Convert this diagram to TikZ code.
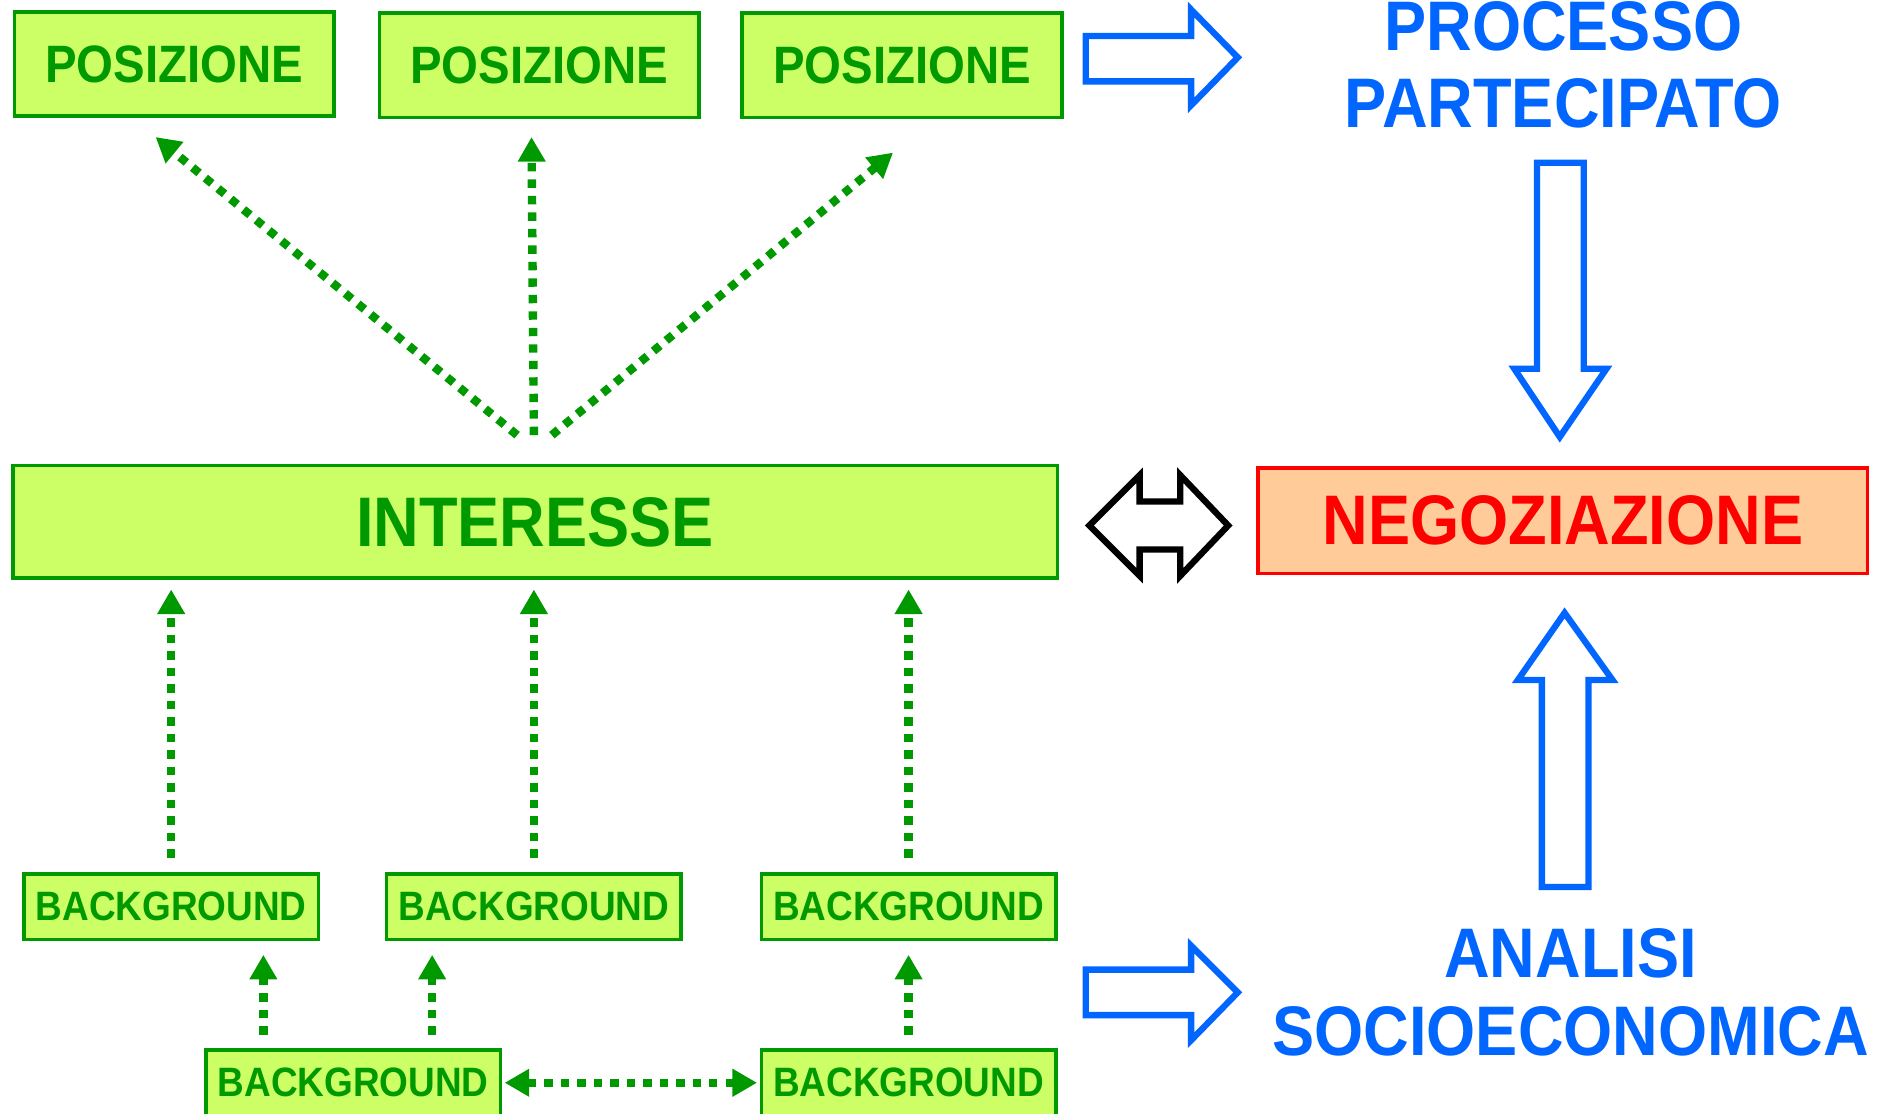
\documentclass[tikz,border=0pt]{standalone}
\usepackage{fontspec}
\setmainfont{Liberation Sans}[FakeStretch=0.9]
\usetikzlibrary{arrows.meta}

\definecolor{limefill}{HTML}{CCFF66}
\definecolor{leafgreen}{HTML}{009900}
\definecolor{skyblue}{HTML}{0066FF}
\definecolor{peach}{HTML}{FFCC99}

\tikzset{
  box/.style={draw=leafgreen, fill=limefill, line width=1pt, text=leafgreen, inner sep=0pt},
  posbox/.style={box, minimum width=3.204cm, minimum height=1.044cm, font=\fontsize{15}{18}\selectfont\bfseries},
  bgbox/.style={box, minimum width=2.952cm, minimum height=0.66cm, font=\fontsize{11.7}{14}\selectfont\bfseries},
  bigfont/.style={font=\fontsize{20}{22}\selectfont\bfseries},
  dotarrow/.style={leafgreen, line width=2.4pt, dash pattern=on 2.4pt off 2.3pt, -{Triangle[length=7pt,width=7.5pt]}},
  blockarrow/.style={draw=skyblue, line width=1.8pt, line join=miter}
}

\begin{document}
\begin{tikzpicture}[x=0.012cm, y=-0.012cm]
  \useasboundingbox (0,0) rectangle (1568,930);

  % Positions
  \node[posbox] (pos1) at (145.5,53.5) {POSIZIONE};
  \node[posbox] (pos2) at (450.5,54.5) {POSIZIONE};
  \node[posbox] (pos3) at (753.5,54.5) {POSIZIONE};

  % Interest
  \node[box, minimum width=10.464cm, minimum height=1.128cm, bigfont] (int) at (447,436) {INTERESSE};

  % Backgrounds
  \node[bgbox] (bg1) at (143,757.5) {BACKGROUND};
  \node[bgbox] (bg2) at (446,757.5) {BACKGROUND};
  \node[bgbox] (bg3) at (759,757.5) {BACKGROUND};
  \node[bgbox] (bg4) at (295,904.5) {BACKGROUND};
  \node[bgbox] (bg5) at (759,904.5) {BACKGROUND};

  % Negotiation side
  \node[draw=red, fill=peach, line width=1pt, text=red, bigfont,
        minimum width=6.108cm, minimum height=1.056cm] (neg) at (1305.5,435) {NEGOZIAZIONE};
  \node[bigfont, text=skyblue, align=center] (proc) at (1306,54) {PROCESSO\\PARTECIPATO};
  \node[bigfont, text=skyblue, align=center] (anal) at (1312,829) {ANALISI\\SOCIOECONOMICA};

  % Fan from interest to positions
  \coordinate (fanL) at ([shift={(-15,-24)}]int.north);
  \coordinate (fanM) at ([shift={(-1,-24)}]int.north);
  \coordinate (fanR) at ([shift={(14,-24)}]int.north);
  \draw[dotarrow] (fanL) -- ([shift={(-15.5,16)}]pos1.south);
  \draw[dotarrow] (fanM) -- ([shift={(-6.5,15)}]pos2.south);
  \draw[dotarrow] (fanR) -- ([shift={(-7.5,28)}]pos3.south);

  % Backgrounds up to interest
  \draw[dotarrow, shorten <=4.1pt, shorten >=2.7pt] (bg1.north) -- (bg1.north |- int.south);
  \draw[dotarrow, shorten <=4.1pt, shorten >=2.7pt] (bg2.north) -- (bg2.north |- int.south);
  \draw[dotarrow, shorten <=4.1pt, shorten >=2.7pt] (bg3.north) -- (bg3.north |- int.south);

  % Lower backgrounds
  \coordinate (b4a) at ([shift={(-75,0)}]bg4.north);
  \coordinate (b4b) at ([shift={(66,0)}]bg4.north);
  \draw[dotarrow, shorten <=3.8pt, shorten >=3.8pt] (b4a) -- (b4a |- bg1.south);
  \draw[dotarrow, shorten <=3.8pt, shorten >=3.8pt] (b4b) -- (b4b |- bg2.south);
  \draw[dotarrow, shorten <=3.8pt, shorten >=3.8pt] (bg5.north) -- (bg5.north |- bg3.south);
  \draw[dotarrow, {Triangle[length=7pt,width=7.5pt]}-{Triangle[length=7pt,width=7.5pt]},
        shorten <=0.7pt, shorten >=0.7pt] (bg4.east) -- (bg5.west);

  % Block arrows
  \draw[blockarrow] (907,30) -- (995,30) -- (995,8) -- (1034,48) -- (995,88) -- (995,68) -- (907,68) -- cycle;
  \draw[blockarrow] (907,810) -- (995,810) -- (995,790) -- (1034,829) -- (995,869) -- (995,848) -- (907,848) -- cycle;
  \draw[blockarrow] (1284,136) -- (1323,136) -- (1323,308) -- (1342,308) -- (1303,365) -- (1265,308) -- (1284,308) -- cycle;
  \draw[blockarrow] (1288,741) -- (1327,741) -- (1327,568) -- (1347,568) -- (1307,512) -- (1268,568) -- (1288,568) -- cycle;
  \draw[black, line width=1.8pt, line join=miter] (910,439) -- (952,397) -- (952,419) -- (986,419) -- (986,397)
    -- (1026,439) -- (986,481) -- (986,459) -- (952,459) -- (952,481) -- cycle;

\end{tikzpicture}
\end{document}
